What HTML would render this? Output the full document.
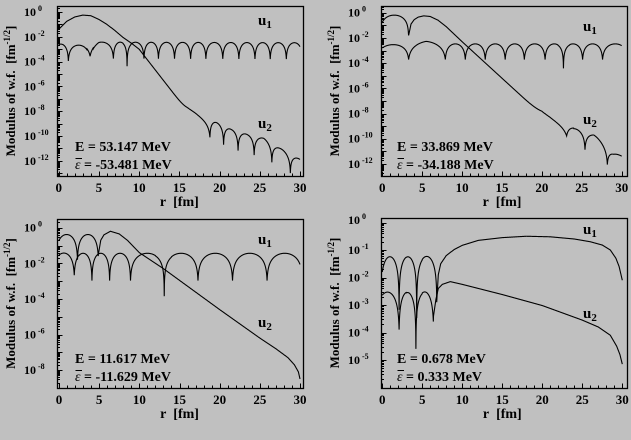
<!DOCTYPE html>
<html><head><meta charset="utf-8"><style>
html,body{margin:0;padding:0;background:#c0c0c0;}
svg{display:block;font-family:"Liberation Serif",serif;font-weight:bold;}
</style></head><body>
<svg id="s" width="631" height="440" viewBox="0 0 631 440" xmlns="http://www.w3.org/2000/svg">
<rect width="631" height="440" fill="#c0c0c0"/>
<g id="g" fill="none" stroke="#000" stroke-width="1.2"></g>
<g id="t" fill="#000" font-size="12"></g>
</svg>
<script>
const NS="http://www.w3.org/2000/svg";
const G=document.getElementById('g'),T=document.getElementById('t');
function el(tag,attrs,parent,txt){const e=document.createElementNS(NS,tag);for(const k in attrs)e.setAttribute(k,attrs[k]);if(txt!==undefined)e.textContent=txt;parent.appendChild(e);return e;}
function interp(p,r){if(r<=p[0][0])return p[0][1];for(let i=1;i<p.length;i++){if(r<=p[i][0]){const t=(r-p[i-1][0])/(p[i][0]-p[i-1][0]);return p[i-1][1]+t*(p[i][1]-p[i-1][1]);}}return p[p.length-1][1];}
function arch(r,d,top,eps){let i=0;while(i<d.length-2&&r>d[i+1])i++;const ph=Math.PI*(r-d[i])/(d[i+1]-d[i]);return top+Math.log10(Math.abs(Math.sin(ph))+eps);}
function comb(a,b){return Math.log10(Math.pow(10,a)+Math.pow(10,b));}
function sub(parent,x,y,base,s){const t=el('text',{x:x,y:y,'font-size':15},parent,base);el('tspan',{dy:3,'font-size':11},t,s);}
function panel(P){
 const {bx0,bx1,by0,by1,x0,x1,y0,dec}=P;
 el('rect',{x:bx0+.5,y:by0+.5,width:bx1-bx0,height:by1-by0,'stroke-width':1.3},G);
 const X=r=>x0+r*(x1-x0)/30, Y=l=>y0-l*dec;
 for(let r=0;r<=30;r++){const x=Math.round(X(r))+.5;const L=r%5==0?5:3;el('line',{x1:x,y1:by1+.5,x2:x,y2:by1+.5-L,'stroke-width':1},G);if(r%5==0)el('text',{x:X(r),y:by1+16,'text-anchor':'middle','font-size':13},T,String(r));}
 for(let d=P.lmin;d<=P.lmax;d++){for(let m=1;m<10;m++){const l=d+Math.log10(m);const y=Y(l);if(y<by0||y>by1)continue;const yy=Math.round(y)+.5;el('line',{x1:bx0+.5,y1:yy,x2:bx0+.5+(m==1?5:2.5),y2:yy,'stroke-width':1},G);}}
 for(const d of P.labels){const y=Y(d);const t=el('text',{x:bx0-33,y:y+4,'font-size':12},T);t.textContent='10';el('tspan',{dy:-5,'font-size':8,dx:2},t,d==0?'0':'-'+(-d));}
 const cy=(by0+by1)/2, lx=bx0-42;
 const tt=el('text',{x:0,y:0,'font-size':13,'text-anchor':'middle',transform:`translate(${lx},${cy}) rotate(-90)`},T);
 tt.textContent='Modulus of w.f.\u00a0\u00a0[fm';el('tspan',{dy:-5,'font-size':9},tt,'-1/2');el('tspan',{dy:5},tt,']');
 el('text',{x:(x0+x1)/2,y:by1+30,'text-anchor':'middle','font-size':14},T,'r\u00a0\u00a0[fm]');
 for(const f of P.curves){let d='';for(let i=0;i<=1500;i++){const r=i*30/1500;let y=Y(f(r));y=Math.max(by0,Math.min(y,by1));d+=(i?'L':'M')+X(r).toFixed(2)+' '+y.toFixed(2);}el('path',{d:d,'stroke-width':1.1},G);}
 sub(T,P.u[0],P.u[1],'u','1');sub(T,P.u[2],P.u[3],'u','2');
 el('text',{x:P.e[0],y:P.e[1],'font-size':14},T,'E = '+P.E);
 const e2=el('text',{x:P.e[0],y:P.e[1]+18,'font-size':14},T);
 el('tspan',{'font-style':'italic','font-weight':'normal'},e2,'\u03b5');el('tspan',{},e2,' = '+P.eps);
 el('line',{x1:P.e[0]+0.5,y1:P.e[1]+7.5,x2:P.e[0]+7,y2:P.e[1]+7.5,'stroke-width':1},G);
}
panel({bx0:57,bx1:303,by0:6,by1:176,x0:58.7,x1:300,y0:12,dec:12.4,lmin:-14,lmax:0,labels:[0,-2,-4,-6,-8,-10,-12],
 u:[258,25,258,128],e:[75,151],E:'53.147 MeV',eps:'-53.481 MeV',
 curves:[
  r=>comb(interp([[0,-1.4],[1,-0.75],[2,-0.4],[3,-0.25],[4,-0.3],[5,-0.6],[6,-1.0],[7,-1.5],[8,-2.05],[9,-2.5],[10,-3.0],[16,-8.0],[17,-8.8],[18,-10],[30,-20]],r),
     arch(r,[14.2,18.8,20.5,22.3,24.3,26.5,28.8,31],interp([[16,-8.0],[19.5,-8.9],[21.5,-9.5],[23.5,-9.9],[25.5,-10.2],[27.5,-11],[30,-11.9]],r),0.03)),
  r=>arch(r,[-0.6,1.2,3.9,6.8,8.5,10.6,12.4,14.4,16.4,18.3,20.4,22.4,24.4,26.3,28.3,30.3],interp([[0,-2.6],[3.9,-2.75],[5,-2.45],[30,-2.5]],r),r>3.5&&r<4.3?0.15:(r>8&&r<9?0.012:0.05))
 ]});
panel({bx0:381,bx1:627,by0:6,by1:176,x0:382.3,x1:621.7,y0:12.7,dec:12.6,lmin:-14,lmax:0,labels:[0,-2,-4,-6,-8,-10,-12],
 u:[583,31,583,124],e:[397,151],E:'33.869 MeV',eps:'-34.188 MeV',
 curves:[
  r=>r<3.3?arch(r,[-0.3,3.3,7],-0.2,0.015):comb(interp([[3.3,-1.8],[3.6,-0.9],[4,-0.55],[4.5,-0.35],[5.2,-0.25],[6,-0.3],[7,-0.6],[8,-1.1],[9,-1.7],[10,-2.3],[15,-5.2],[20,-8.1],[21,-8.9],[22,-10],[30,-18]],r),
     arch(r,[17.6,23.1,25.4,28.2,31.5],interp([[20,-8.2],[24,-9.2],[26.5,-9.7],[29,-11.1],[30,-11.4]],r),r<24?0.15:0.04)),
  r=>arch(r,[-0.8,3.3,7.9,10.4,12.9,15.4,17.8,20.4,22.7,25.1,27.6,30.8],interp([[0,-2.6],[3.3,-2.5],[5.5,-2.3],[8,-2.5],[30,-2.5]],r),(r>22&&r<23.5)?0.012:0.06)
 ]});
panel({bx0:57,bx1:303,by0:219,by1:388,x0:59,x1:300,y0:227.7,dec:17.8,lmin:-10,lmax:0,labels:[0,-2,-4,-6,-8],
 u:[258,244,258,327],e:[75,363],E:'11.617 MeV',eps:'-11.629 MeV',
 curves:[
  r=>r<4.9?arch(r,[-0.4,2.3,4.9],-0.4,0.04):interp([[4.9,-1.5],[5.2,-0.7],[5.6,-0.4],[6.4,-0.2],[7.5,-0.35],[8.5,-0.7],[10,-1.4],[13,-2.3],[20,-4.6],[25,-6.2],[27,-6.8],[28.5,-7.3],[29.3,-7.7],[29.8,-8.1],[30,-8.5]],r),
  r=>arch(r,[-0.7,1.9,4.1,6.3,8.9,13.1,17.3,21.6,25.9,30.3],-1.45,r>12&&r<14?0.004:(r<2.5?0.06:0.03))
 ]});
panel({bx0:381,bx1:627,by0:218,by1:388,x0:382.3,x1:622.3,y0:222.5,dec:27.5,lmin:-6,lmax:0,labels:[-1,-2,-3,-4,-5],
 u:[583,234,583,318],e:[397,363],E:'0.678 MeV',eps:'0.333 MeV',
 curves:[
  r=>r<6.8?arch(r,[-0.2,2.1,4.3,6.8],-1.25,r<3?0.012:(r<5?0.006:0.04)):interp([[6.8,-2.9],[7.0,-1.9],[7.3,-1.5],[8,-1.2],[9,-0.98],[10,-0.83],[12,-0.65],[15,-0.55],[18,-0.5],[21,-0.52],[24,-0.6],[26,-0.7],[27.5,-0.82],[28.5,-1.0],[29.2,-1.3],[29.6,-1.6],[30,-2.1]],r),
  r=>r<6.4?arch(r,[-0.8,2.1,4.2,6.4],-2.55,r<3?0.045:(r<5?0.009:0.06)):interp([[6.4,-3.4],[6.7,-2.8],[7,-2.4],[7.5,-2.25],[8.5,-2.15],[10,-2.25],[15,-2.62],[20,-3.02],[25,-3.55],[27,-3.8],[28.5,-4.1],[29.3,-4.5],[29.7,-4.8],[30,-5.15]],r)
 ]});
(function(){const t=el('text',{x:348,y:224,'font-size':12},T);t.textContent='10';el('tspan',{dy:-5,'font-size':8,dx:2},t,'0');})();
</script>
</body></html>
